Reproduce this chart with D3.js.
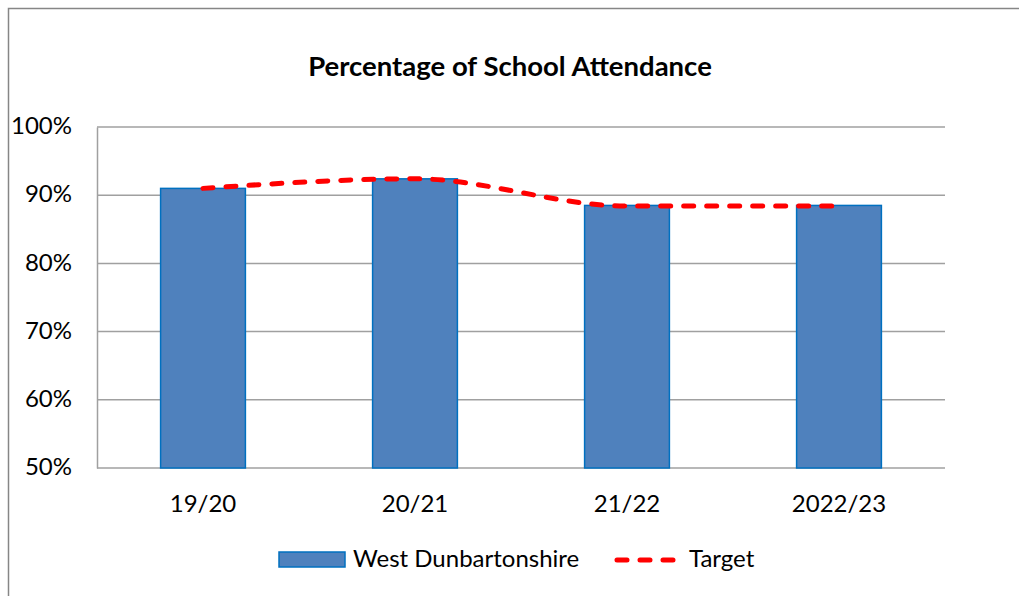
<!DOCTYPE html>
<html>
<head>
<meta charset="utf-8">
<script src="https://cdn.jsdelivr.net/npm/d3@7"></script>
<style>
  body { margin: 0; background: #fff; }
  svg { display: block; }
</style>
</head>
<body>
<svg id="chart" width="1019" height="596"></svg>
<script>
const categories = ['19/20', '20/21', '21/22', '2022/23'];
const attendance = [91.0, 92.4, 88.5, 88.5];
const target = [91.0, 92.4, 88.4, 88.4];
const yTicks = [50, 60, 70, 80, 90, 100];

const svg = d3.select('#chart');
const font = 'Lato, Carlito, Calibri, sans-serif';

// chart area border (runs off the right / bottom edge)
svg.append('rect')
  .attr('x', 8.5).attr('y', 8.5)
  .attr('width', 1200).attr('height', 800)
  .attr('fill', 'none')
  .attr('stroke', '#868686')
  .attr('stroke-width', 1.5);

const margin = { left: 97, right: 945, top: 127, bottom: 468 };

const x = d3.scaleBand()
  .domain(categories)
  .range([margin.left, margin.right])
  .paddingInner(0.6)
  .paddingOuter(0.3);

const y = d3.scaleLinear()
  .domain([50, 100])
  .range([margin.bottom, margin.top]);

// gridlines
svg.append('g')
  .selectAll('line')
  .data(yTicks)
  .join('line')
  .attr('x1', margin.left)
  .attr('x2', margin.right)
  .attr('y1', d => y(d))
  .attr('y2', d => y(d))
  .attr('stroke', '#a0a0a0')
  .attr('stroke-width', 1.5);

// y axis
const yAxis = svg.append('g')
  .attr('transform', `translate(${margin.left},0)`)
  .call(d3.axisLeft(y).tickValues(yTicks).tickFormat(d => d + '%').tickSize(0).tickPadding(25));
yAxis.select('.domain').attr('stroke', '#a0a0a0').attr('stroke-width', 1.5);
yAxis.selectAll('text')
  .attr('font-family', font)
  .attr('font-size', '24px')
  .attr('dy', '0.28em')
  .attr('fill', '#000');

// x axis
const xAxis = svg.append('g')
  .attr('transform', `translate(0,${margin.bottom})`)
  .call(d3.axisBottom(x).tickSize(0).tickPadding(27));
xAxis.select('.domain').remove();
xAxis.selectAll('text')
  .attr('font-family', font)
  .attr('font-size', '24px')
  .attr('fill', '#000');

// bars
svg.append('g')
  .selectAll('rect')
  .data(categories)
  .join('rect')
  .attr('x', d => x(d))
  .attr('y', (d, i) => y(attendance[i]))
  .attr('width', x.bandwidth())
  .attr('height', (d, i) => y(50) - y(attendance[i]))
  .attr('fill', '#4f81bd')
  .attr('stroke', '#0070c0')
  .attr('stroke-width', 1.5);

// target line
const line = d3.line()
  .x((d, i) => x(categories[i]) + x.bandwidth() / 2)
  .y(d => y(d))
  .curve(d3.curveMonotoneX);

svg.append('path')
  .datum(target)
  .attr('d', line)
  .attr('fill', 'none')
  .attr('stroke', '#ff0000')
  .attr('stroke-width', 5)
  .attr('stroke-linecap', 'round')
  .attr('stroke-dasharray', '10,13');

// title
svg.append('text')
  .attr('x', 510)
  .attr('y', 76)
  .attr('text-anchor', 'middle')
  .attr('font-family', font)
  .attr('font-weight', 'bold')
  .attr('font-size', '27.5px')
  .attr('fill', '#000')
  .text('Percentage of School Attendance');

// legend
const legend = svg.append('g');
legend.append('rect')
  .attr('x', 279).attr('y', 552)
  .attr('width', 66).attr('height', 15)
  .attr('fill', '#4f81bd')
  .attr('stroke', '#0070c0')
  .attr('stroke-width', 1.5);
legend.append('text')
  .attr('x', 353).attr('y', 567)
  .attr('font-family', font)
  .attr('font-size', '24px')
  .attr('fill', '#000')
  .text('West Dunbartonshire');
legend.append('line')
  .attr('x1', 617).attr('x2', 676)
  .attr('y1', 560).attr('y2', 560)
  .attr('stroke', '#ff0000')
  .attr('stroke-width', 5)
  .attr('stroke-linecap', 'round')
  .attr('stroke-dasharray', '10,13');
legend.append('text')
  .attr('x', 689).attr('y', 567)
  .attr('font-family', font)
  .attr('font-size', '24px')
  .attr('fill', '#000')
  .text('Target');
</script>
</body>
</html>
